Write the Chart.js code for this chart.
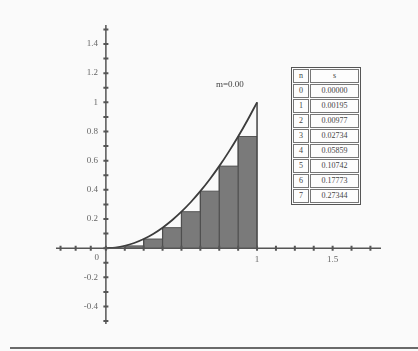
<!DOCTYPE html>
<html>
<head>
<meta charset="utf-8">
<script src="https://cdn.jsdelivr.net/npm/chart.js@4"></script>
<style>
  html, body { margin: 0; padding: 0; background: #fafafa; }
  #wrap { position: relative; width: 418px; height: 351px; }
  #sumTable {
    position: absolute; left: 291px; top: 67px;
    border-collapse: separate; border-spacing: 1px;
    border: 1px solid #555; background: #fdfdfd;
    font: 8px "Liberation Serif", serif; color: #444;
    table-layout: fixed;
  }
  #sumTable td {
    border: 1px solid #777; height: 12px; line-height: 12px;
    padding: 0; text-align: center; white-space: nowrap; overflow: hidden;
  }
  #sumTable td.n { width: 14px; }
  #sumTable td.s { width: 47px; }
  #bottomLine { position: absolute; left: 10px; top: 347px; width: 408px; height: 2px; background: #6a6a6a; }
</style>
</head>
<body>
<div id="wrap">
  <canvas id="riemann" width="418" height="351"></canvas>
  <table id="sumTable"></table>
  <div id="bottomLine"></div>
</div>
<script>
// left-endpoint rectangles for y = x^2 on [0,1], n = 8
const binLeft = [0, 0.125, 0.25, 0.375, 0.5, 0.625, 0.75, 0.875];
const binHeight = [0, 0.0156, 0.0625, 0.1406, 0.25, 0.3906, 0.5625, 0.7656];
const binRight = 1;

// the curve
const curveX = [0, 0.0625, 0.125, 0.1875, 0.25, 0.3125, 0.375, 0.4375, 0.5, 0.5625, 0.625, 0.6875, 0.75, 0.8125, 0.875, 0.9375, 1];
const curveY = [0, 0.0039, 0.0156, 0.0352, 0.0625, 0.0977, 0.1406, 0.1914, 0.25, 0.3164, 0.3906, 0.4727, 0.5625, 0.6602, 0.7656, 0.8789, 1];

// axis ticks
const xTickValues = [-0.3, -0.2, -0.1, 0, 0.125, 0.25, 0.375, 0.5, 0.625, 0.75, 0.875, 1, 1.125, 1.25, 1.375, 1.5, 1.625, 1.75];
const xLabelValues = [1, 1.5];
const xLabelText = ['1', '1.5'];
const yTickValues = [-0.5, -0.4, -0.3, -0.2, -0.1, 0, 0.1, 0.2, 0.3, 0.4, 0.5, 0.6, 0.7, 0.8, 0.9, 1, 1.1, 1.2, 1.3, 1.4, 1.5];
const yLabelValues = [1.4, 1.2, 1, 0.8, 0.6, 0.4, 0.2, -0.2, -0.4];
const yLabelText = ['1.4', '1.2', '1', '0.8', '0.6', '0.4', '0.2', '-0.2', '-0.4'];
const originLabel = '0';

// running sums table
const tableHead = ['n', 's'];
const tableN = ['0', '1', '2', '3', '4', '5', '6', '7'];
const tableS = ['0.00000', '0.00195', '0.00977', '0.02734', '0.05859', '0.10742', '0.17773', '0.27344'];

const frameLabel = 'm=0.00';
const frameLabelAt = { x: 0.82, y: 1.12 };

// build table
const tbl = document.getElementById('sumTable');
const rows = [tableHead].concat(tableN.map((n, i) => [n, tableS[i]]));
rows.forEach(r => {
  const tr = document.createElement('tr');
  tr.innerHTML = `<td class="n">${r[0]}</td><td class="s">${r[1]}</td>`;
  tbl.appendChild(tr);
});

// datasets
const stepData = binLeft.map((x, i) => ({ x, y: binHeight[i] }))
  .concat([{ x: binRight, y: binHeight[binHeight.length - 1] }]);

const edgeData = [];
binLeft.forEach((x, i) => {
  if (i === 0) return;
  edgeData.push({ x, y: 0 }, { x, y: binHeight[i] }, { x, y: null });
});

const boundaryData = [{ x: binRight, y: 0 }, { x: binRight, y: curveY[curveY.length - 1] }];
const curveData = curveX.map((x, i) => ({ x, y: curveY[i] }));

const axesAtOrigin = {
  id: 'axesAtOrigin',
  afterDatasetsDraw(chart) {
    const { ctx, chartArea, scales: { x, y } } = chart;
    const x0 = x.getPixelForValue(0);
    const y0 = y.getPixelForValue(0);
    ctx.save();
    ctx.strokeStyle = '#555';
    ctx.lineWidth = 1.5;
    ctx.beginPath();
    ctx.moveTo(chartArea.left, y0); ctx.lineTo(chartArea.right, y0);
    ctx.moveTo(x0, chartArea.top); ctx.lineTo(x0, chartArea.bottom);
    ctx.stroke();

    ctx.lineWidth = 2;
    ctx.beginPath();
    xTickValues.forEach(v => {
      const px = x.getPixelForValue(v);
      ctx.moveTo(px, y0 - 2.5); ctx.lineTo(px, y0 + 2.5);
    });
    yTickValues.forEach(v => {
      const py = y.getPixelForValue(v);
      ctx.moveTo(x0 - 2.5, py); ctx.lineTo(x0 + 2.5, py);
    });
    ctx.stroke();

    ctx.fillStyle = '#666';
    ctx.font = '9px "Liberation Serif", serif';
    ctx.textAlign = 'right';
    ctx.textBaseline = 'middle';
    yLabelValues.forEach((v, i) => {
      ctx.fillText(yLabelText[i], x0 - 8, y.getPixelForValue(v));
    });
    ctx.fillText(originLabel, x0 - 7, y0 + 9);
    ctx.textAlign = 'center';
    ctx.textBaseline = 'top';
    xLabelValues.forEach((v, i) => {
      ctx.fillText(xLabelText[i], x.getPixelForValue(v), y0 + 7);
    });

    ctx.fillStyle = '#444';
    ctx.textBaseline = 'middle';
    ctx.fillText(frameLabel, x.getPixelForValue(frameLabelAt.x), y.getPixelForValue(frameLabelAt.y));
    ctx.restore();
  }
};

new Chart(document.getElementById('riemann'), {
  type: 'line',
  data: {
    datasets: [
      {
        data: curveData, tension: 0.4, cubicInterpolationMode: 'monotone',
        borderColor: '#3c3c3c', borderWidth: 1.8, pointRadius: 0, fill: false
      },
      {
        data: boundaryData,
        borderColor: '#444', borderWidth: 1.5, pointRadius: 0, fill: false
      },
      {
        data: edgeData, spanGaps: false,
        borderColor: '#4e4e4e', borderWidth: 1.2, pointRadius: 0, fill: false
      },
      {
        data: stepData, stepped: 'before', fill: 'origin',
        backgroundColor: '#7a7a7a', borderColor: '#555', borderWidth: 1, pointRadius: 0
      }
    ]
  },
  options: {
    responsive: false,
    animation: false,
    devicePixelRatio: 1,
    layout: { padding: { left: 56, right: 37, top: 25, bottom: 27 } },
    scales: {
      x: { type: 'linear', display: false, min: -0.33, max: 1.82 },
      y: { type: 'linear', display: false, min: -0.52, max: 1.53 }
    },
    plugins: { legend: { display: false }, tooltip: { enabled: false } }
  },
  plugins: [axesAtOrigin]
});
</script>
</body>
</html>
